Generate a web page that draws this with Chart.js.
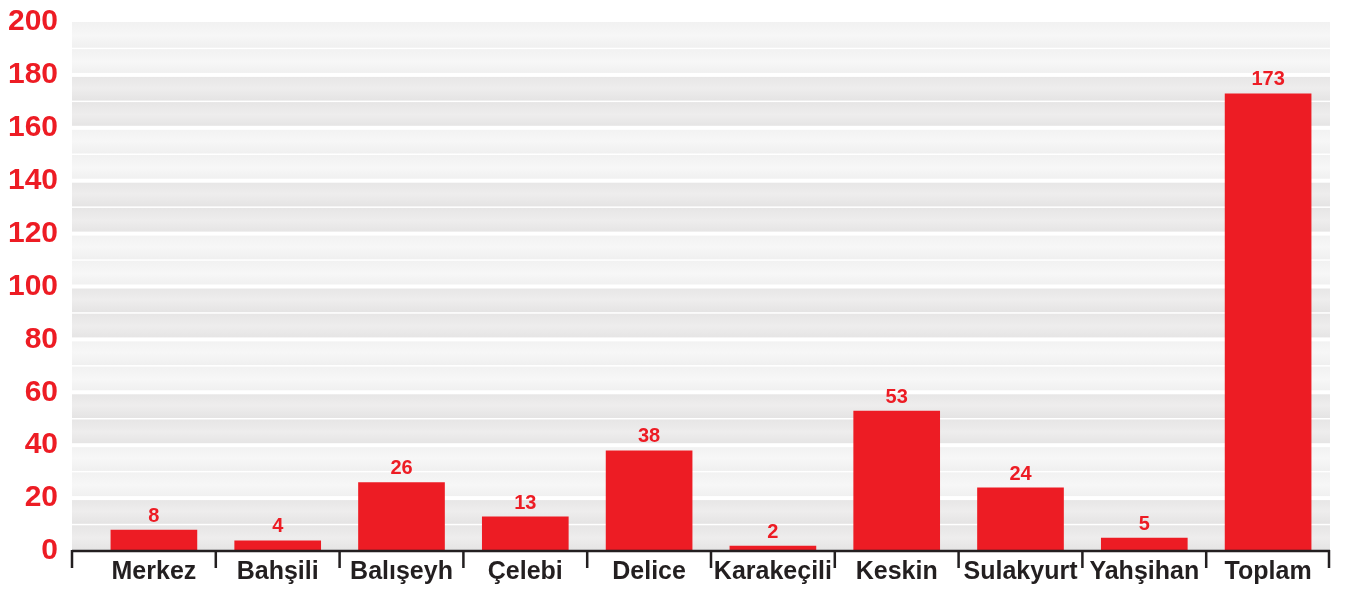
<!DOCTYPE html>
<html>
<head>
<meta charset="utf-8">
<script src="https://cdn.jsdelivr.net/npm/chart.js@4.4.1/dist/chart.umd.min.js"></script>
<style>
html,body{margin:0;padding:0;background:#fff;}
#wrap{width:1346px;height:590px;position:relative;}
</style>
</head>
<body>
<div id="wrap"><canvas id="c" width="1346" height="590"></canvas></div>
<script>
const categories = ["Merkez","Bahşili","Balışeyh","Çelebi","Delice","Karakeçili","Keskin","Sulakyurt","Yahşihan","Toplam"];
const values = [8, 4, 26, 13, 38, 2, 53, 24, 5, 173];
const yTicks = [0, 20, 40, 60, 80, 100, 120, 140, 160, 180, 200];

const RED = '#ed1c24';
const DARK = '#231f20';
const FONT = '"Liberation Sans", Arial, sans-serif';

const bgPlugin = {
  id: 'bg',
  beforeDraw(chart) {
    const ctx = chart.ctx, y = chart.scales.y, a = chart.chartArea;
    const left = a.left - 20, right = a.right;
    ctx.save();
    for (let v = 0; v < 200; v += 10) {
      const top = y.getPixelForValue(v + 10), bot = y.getPixelForValue(v);
      const dark = Math.floor(v / 20) % 2 === 0;
      const g = ctx.createLinearGradient(0, top, 0, bot);
      if (dark) {
        g.addColorStop(0, '#e6e5e5'); g.addColorStop(0.5, '#eeeded'); g.addColorStop(1, '#e4e3e3');
      } else {
        g.addColorStop(0, '#f1f1f1'); g.addColorStop(0.5, '#f7f7f7'); g.addColorStop(1, '#efefef');
      }
      ctx.fillStyle = g;
      ctx.fillRect(left, top, right - left, bot - top);
    }
    ctx.fillStyle = '#ffffff';
    for (let v = 10; v < 200; v += 10) {
      const p = y.getPixelForValue(v);
      if (v % 20 === 0) ctx.fillRect(left, p - 2, right - left, 4);
      else ctx.fillRect(left, p - 0.75, right - left, 1.5);
    }
    ctx.restore();
  },
  afterDatasetsDraw(chart) {
    const ctx = chart.ctx, a = chart.chartArea, x = chart.scales.x;
    const left = a.left - 20, right = a.right, base = a.bottom;
    ctx.save();
    ctx.strokeStyle = DARK;
    ctx.lineWidth = 2.5;
    ctx.beginPath();
    ctx.moveTo(left, base); ctx.lineTo(right, base);
    const n = categories.length;
    const bounds = [left];
    for (let i = 1; i < n; i++) bounds.push((x.getPixelForValue(i - 1) + x.getPixelForValue(i)) / 2);
    bounds.push(right - 1);
    bounds.forEach(bx => { ctx.moveTo(bx, base - 1); ctx.lineTo(bx, base + 17); });
    ctx.stroke();
    // data labels
    const meta = chart.getDatasetMeta(0);
    ctx.fillStyle = RED;
    ctx.font = 'bold 20px ' + FONT;
    ctx.textAlign = 'center';
    ctx.textBaseline = 'alphabetic';
    meta.data.forEach((bar, i) => {
      ctx.fillText(String(values[i]), bar.x, bar.y - 8);
    });
    ctx.restore();
  }
};

new Chart(document.getElementById('c'), {
  type: 'bar',
  data: {
    labels: categories,
    datasets: [{
      data: values,
      backgroundColor: RED,
      borderWidth: 0,
      barPercentage: 0.7,
      categoryPercentage: 1.0
    }]
  },
  options: {
    responsive: false,
    animation: false,
    events: [],
    layout: { padding: { top: 22, right: 16, left: 0, bottom: 0 } },
    plugins: { legend: { display: false }, tooltip: { enabled: false } },
    scales: {
      x: {
        grid: { display: false, drawTicks: false },
        border: { display: false },
        ticks: { color: DARK, font: { family: FONT, size: 25, weight: 'bold' }, padding: 6, maxRotation: 0, autoSkip: false },
        afterFit(s) { s.height = 39; s.paddingLeft = 0; s.paddingRight = 0; }
      },
      y: {
        min: 0, max: 200,
        afterBuildTicks(s) { s.ticks = yTicks.map(v => ({ value: v })); },
        grid: { display: false, drawTicks: false },
        border: { display: false },
        ticks: { color: RED, font: { family: FONT, size: 30, weight: 'bold' }, padding: 34 },
        afterFit(s) { s.width = 92; s.paddingTop = 0; s.paddingBottom = 0; }
      }
    }
  },
  plugins: [bgPlugin]
});
</script>
</body>
</html>
